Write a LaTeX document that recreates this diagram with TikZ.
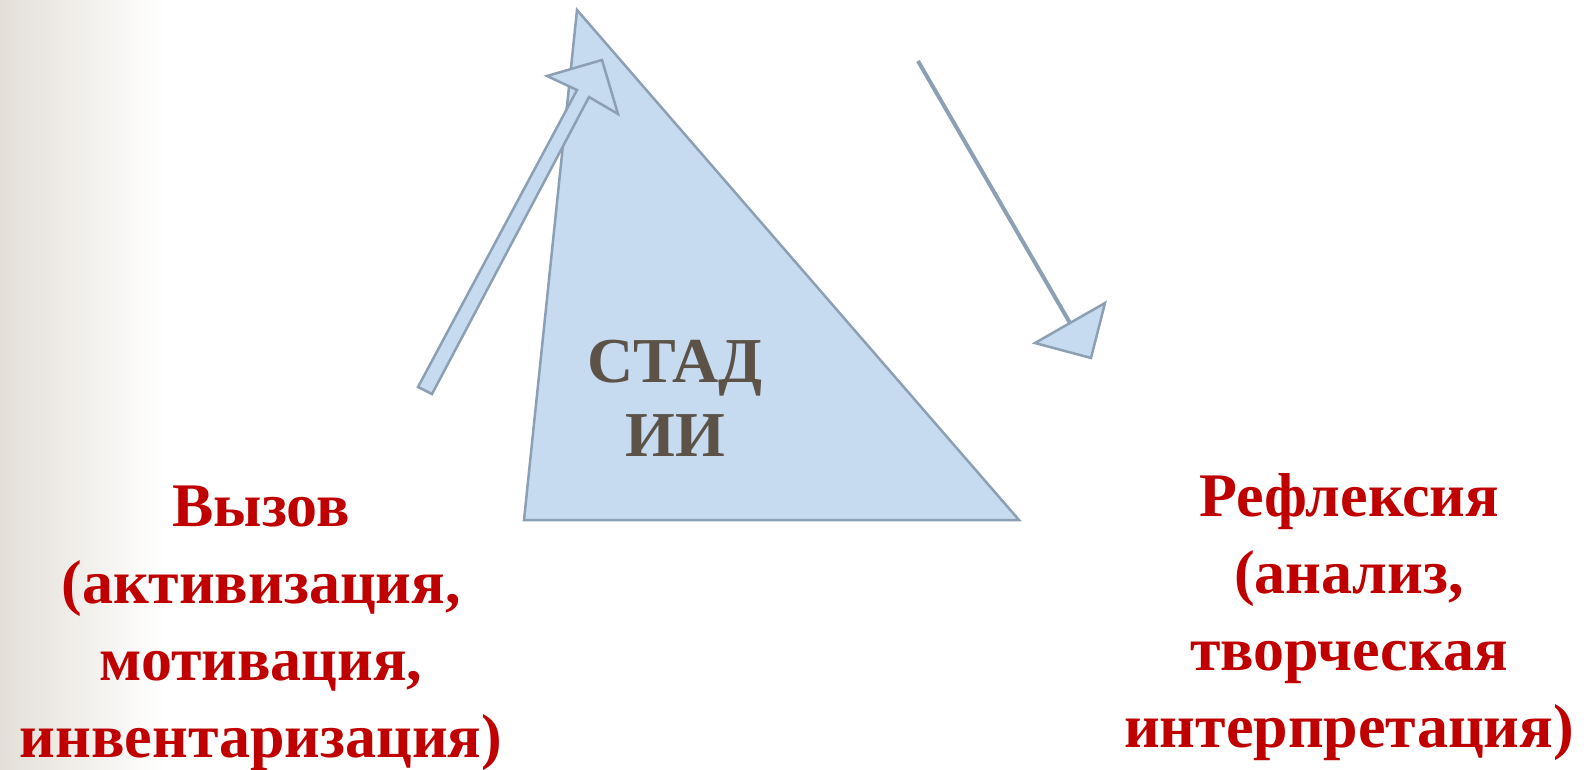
\documentclass[tikz,border=0pt]{standalone}
\usepackage{fontspec}
\setmainfont{Liberation Serif}
\usetikzlibrary{positioning}

\definecolor{stagered}{RGB}{192,0,0}
\definecolor{stagegray}{RGB}{92,82,72}
\definecolor{stagefill}{RGB}{198,219,240}
\definecolor{stageline}{RGB}{141,160,179}
\definecolor{stagebg}{RGB}{227,223,216}

\tikzset{
    redlabel/.style={text=stagered, align=center, anchor=north, inner sep=0pt,
        font=\bfseries\fontsize{62}{77}\selectfont},
    bluepart/.style={draw=stageline, fill=stagefill, line width=2.5pt, line join=miter}
}

\begin{document}
\begin{tikzpicture}[x=1pt, y=-1pt]
    \useasboundingbox (0, 0) rectangle (1593, 770);
    \fill[white] (0, 0) rectangle (1593, 770);
    \shade[left color=stagebg, right color=white] (0, 0) rectangle (165, 770);

    % Triangle
    \draw[bluepart] (577, 10) -- (524, 520) -- (1019, 520) -- cycle;

    % Block arrow going up
    \coordinate (up tail) at (425, 390);
    \coordinate (up tip) at (602, 60);
    \draw[bluepart] (418, 387) -- (577, 90) -- (547, 76) -- (up tip) -- (618, 114) -- (589, 97) -- (432, 394) -- cycle;

    % Line arrow going down
    \coordinate (down tail) at (918, 61);
    \coordinate (down head) at (1070, 323);
    \draw[stageline, line width=4pt] (down tail) -- (down head);
    \draw[bluepart] (1035, 343) -- (1105, 303) -- (1091, 358) -- cycle;

    % Texts
    \node[text=stagegray, align=center, anchor=north, inner sep=0pt,
        font=\bfseries\fontsize{64}{74}\selectfont] (stage) at (675, 340) {СТАД\\ИИ};
    \node[redlabel] (call) at (261, 486) {Вызов\\(активизация,\\мотивация,\\инвентаризация)};
    \node[redlabel] (reflection) at (1349, 473) {Рефлексия\\(анализ,\\творческая\\интерпретация)};
\end{tikzpicture}
\end{document}
